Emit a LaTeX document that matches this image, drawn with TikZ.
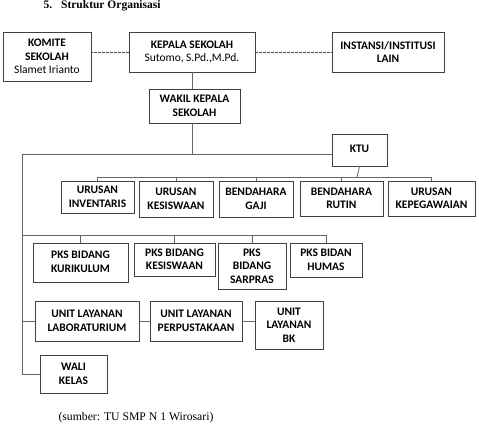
\documentclass[tikz,border=0pt]{standalone}
\usepackage{fontspec}
\setmainfont{Liberation Serif}
\newfontfamily\boxfont{Carlito}
\begin{document}
\begin{tikzpicture}[x=1pt,y=-1pt,
  box/.style={draw=black!75,line width=0.8pt,fill=white,align=center,inner sep=1pt,
    font=\boxfont\fontsize{11.5}{13.5}\selectfont\bfseries},
  conn/.style={draw=black!60,line width=0.8pt},
  dconn/.style={draw=black!70,line width=0.6pt,dash pattern=on 2.5pt off 1.5pt}]
\useasboundingbox (0,0) rectangle (479,423);
% title and caption
\node[anchor=base west,font=\fontsize{11.5}{13}\selectfont\bfseries] (title) at (40,8.5) {5.\hspace{9pt}Struktur Organisasi};
\node[anchor=base west,font=\fontsize{11.7}{13}\selectfont] (src) at (55,420) {(sumber: TU SMP N 1 Wirosari)};
\coordinate (L1) at (22,154);
\coordinate (U) at (357,177);
\coordinate (P) at (22,235);
% boxes
\node[box,minimum width=88pt,minimum height=49pt] (komite) at (47,56.5) {KOMITE\\SEKOLAH\\\mdseries Slamet Irianto};
\node[box,minimum width=126pt,minimum height=40pt] (kepala) at (192,52) {KEPALA SEKOLAH\\\mdseries Sutomo, S.Pd.,M.Pd.};
\node[box,minimum width=112pt,minimum height=40pt] (instansi) at (388,52) {INSTANSI/INSTITUSI\\LAIN};
\node[box,minimum width=91pt,minimum height=34pt] (wakil) at (194.5,106) {WAKIL KEPALA\\SEKOLAH};
\node[box,minimum width=55pt,minimum height=32pt] (ktu) at (359.5,150) {\raisebox{3pt}{KTU}};
\node[box,minimum width=73pt,minimum height=32pt] (inv) at (97.5,197) {URUSAN\\INVENTARIS};
\node[box,minimum width=74pt,minimum height=36pt] (ukes) at (176,199) {URUSAN\\KESISWAAN};
\node[box,minimum width=74pt,minimum height=36pt] (gaji) at (256,199) {BENDAHARA\\GAJI};
\node[box,minimum width=83pt,minimum height=35pt] (rutin) at (341.5,198.5) {BENDAHARA\\RUTIN};
\node[box,minimum width=87pt,minimum height=35pt] (kep) at (431.5,198.5) {URUSAN\\KEPEGAWAIAN};
\node[box,minimum width=95pt,minimum height=39pt] (pkur) at (80.5,262.5) {\raisebox{2pt}{PKS BIDANG}\\\raisebox{2pt}{KURIKULUM}};
\node[box,minimum width=81pt,minimum height=33pt] (pkes) at (174.5,259.5) {PKS BIDANG\\KESISWAAN};
\node[box,minimum width=68pt,minimum height=46pt] (psar) at (252,266) {PKS\\BIDANG\\SARPRAS};
\node[box,minimum width=72pt,minimum height=34pt] (phum) at (326,260) {PKS BIDAN\\HUMAS};
\node[box,minimum width=104pt,minimum height=40pt] (lab) at (87,321) {UNIT LAYANAN\\LABORATURIUM};
\node[box,minimum width=92pt,minimum height=40pt] (perp) at (196,321) {UNIT LAYANAN\\PERPUSTAKAAN};
\node[box,minimum width=68pt,minimum height=48pt] (bk) at (289,325) {UNIT\\LAYANAN\\BK};
\node[box,minimum width=67pt,minimum height=38pt] (wali) at (73.5,374) {WALI\\KELAS};
% connectors
\draw[dconn] (kepala.west) -- (kepala.west -| komite.east);
\draw[dconn] (kepala.east) -- (instansi.west);
\draw[conn] (kepala.south) -- (wakil.north -| kepala.south);
\draw[conn] (wakil.south -| kepala.south) -- (L1 -| kepala.south);
\draw[conn] (L1) -- (L1 -| ktu.west);
\draw[conn] (L1) |- (wali.west);
\draw[conn] (ktu.south) -- (U);
\draw[conn] (U -| inv.north) -- (U -| kep.north);
\foreach \n in {inv,ukes,gaji,rutin,kep} \draw[conn] (\n.north) -- (\n.north |- U);
\draw[conn] (P) -- (P -| phum.north);
\foreach \n in {pkur,pkes,psar,phum} \draw[conn] (\n.north) -- (\n.north |- P);
\draw[conn] (L1 |- lab.west) -- (lab.west);
\draw[conn] (lab.east) -- (perp.west);
\draw[conn] (perp.east) -- (perp.east -| bk.west);
\end{tikzpicture}
\end{document}
